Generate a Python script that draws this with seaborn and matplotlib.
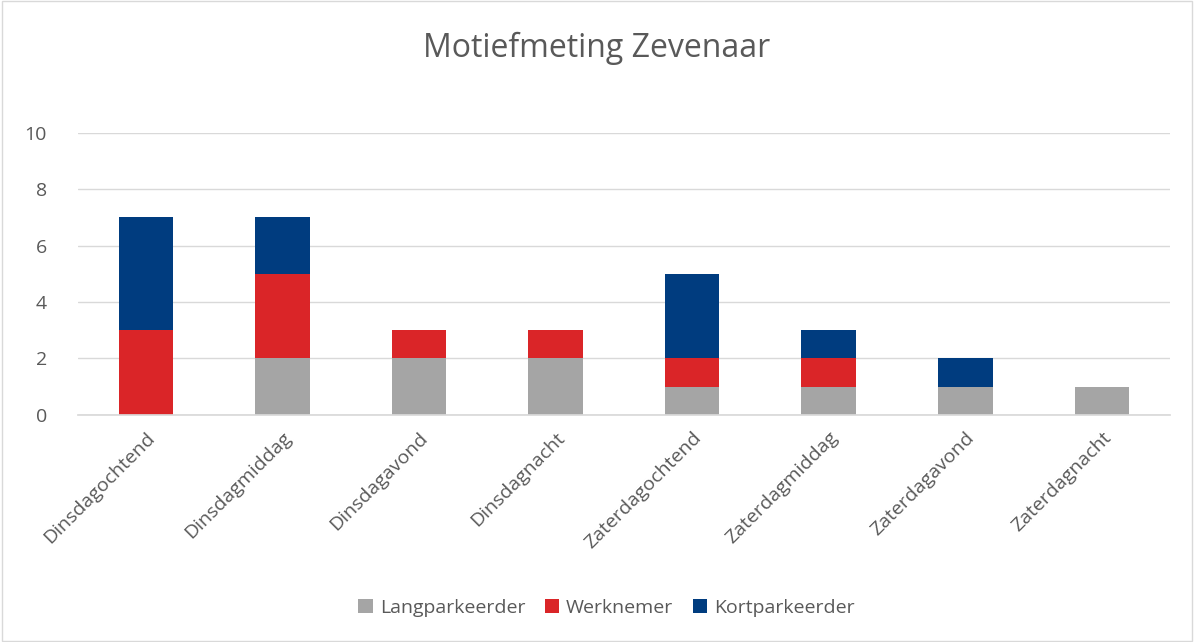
import matplotlib
matplotlib.use("Agg")
import matplotlib.pyplot as plt
import seaborn as sns
import numpy as np

# data
periods = ["Dinsdagochtend", "Dinsdagmiddag", "Dinsdagavond", "Dinsdagnacht",
           "Zaterdagochtend", "Zaterdagmiddag", "Zaterdagavond", "Zaterdagnacht"]
langparkeerder = [0, 2, 2, 2, 1, 1, 1, 1]
werknemer = [3, 3, 1, 1, 1, 1, 0, 0]
kortparkeerder = [4, 2, 0, 0, 3, 1, 1, 0]

series = [("Langparkeerder", langparkeerder, "#A5A5A5"),
          ("Werknemer", werknemer, "#DA2528"),
          ("Kortparkeerder", kortparkeerder, "#003C7F")]

sns.set_theme(style="white")
plt.rcParams["font.family"] = ["Open Sans", "DejaVu Sans"]

fig = plt.figure(figsize=(11.94, 6.42), dpi=100)
ax = fig.add_axes([0.065, 0.354, 0.915, 0.439])

bottom = np.zeros(len(periods))
for name, vals, col in series:
    sns.barplot(x=periods, y=vals, bottom=bottom, color=col, width=0.4,
                label=name, ax=ax, saturation=1, linewidth=0)
    bottom = bottom + np.array(vals)

ax.set_ylim(0, 10)
ax.set_yticks(range(0, 11, 2))
ax.set_xlim(-0.5, len(periods) - 0.5)
ax.yaxis.grid(True, color="#D9D9D9", linewidth=1)
ax.set_axisbelow(True)
for s in ["top", "right", "left"]:
    ax.spines[s].set_visible(False)
ax.spines["bottom"].set_color("#D9D9D9")
ax.tick_params(axis="both", colors="#595959", labelsize=14, length=0)
ax.tick_params(axis="y", pad=22)
plt.setp(ax.get_xticklabels(), rotation=45, ha="right", rotation_mode="anchor")
ax.tick_params(axis="x", pad=10)
ax.set_xlabel("")
ax.set_ylabel("")

fig.suptitle("Motiefmeting Zevenaar", y=0.95, fontsize=23, color="#595959")

handles, labels = ax.get_legend_handles_labels()
if ax.get_legend():
    ax.get_legend().remove()
fig.legend(handles, labels, loc="center", bbox_to_anchor=(0.508, 0.053), ncol=3,
           frameon=False, fontsize=14, handlelength=0.75, handleheight=0.75,
           handletextpad=0.35, columnspacing=1.0, labelcolor="#595959")

# figure border
fig.patches.append(plt.Rectangle((0.002, 0.002), 0.996, 0.996, transform=fig.transFigure,
                                 fill=False, edgecolor="#D9D9D9", linewidth=1))

fig.savefig("out.png", dpi=100)
